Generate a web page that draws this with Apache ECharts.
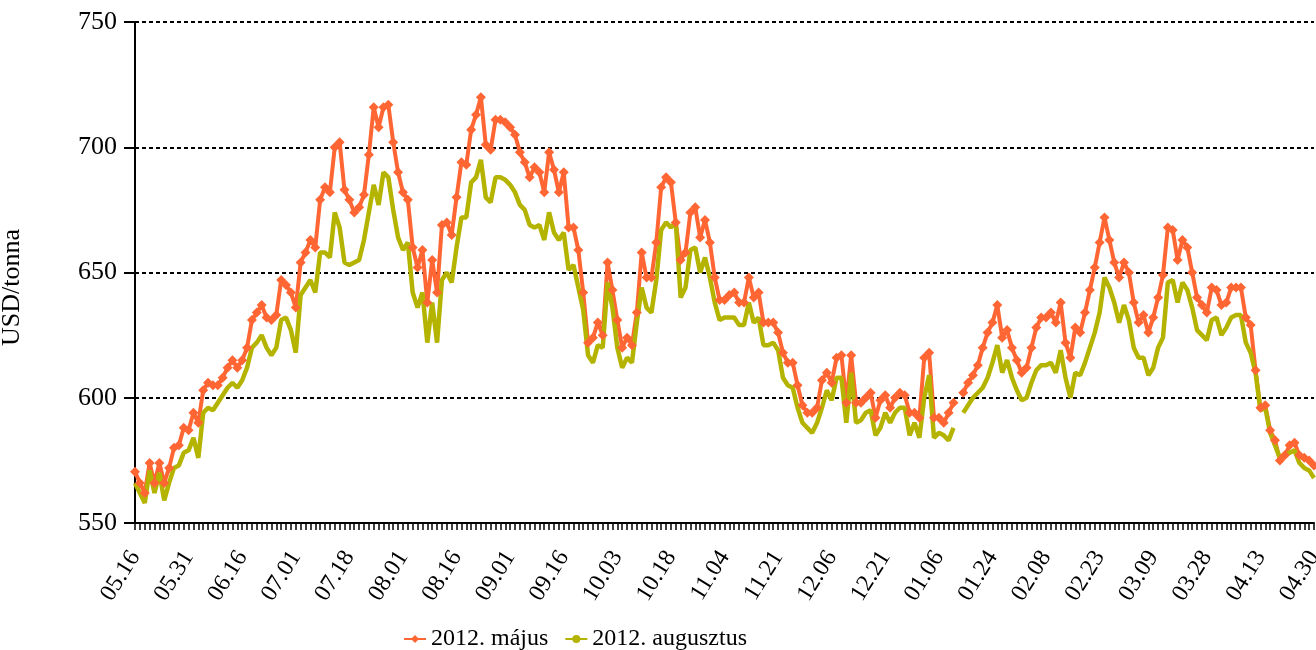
<!DOCTYPE html>
<html>
<head>
<meta charset="utf-8">
<script src="https://cdn.jsdelivr.net/npm/echarts@6/dist/echarts.min.js"></script>
<style>
html,body{margin:0;padding:0;background:#fff;}
#chart{width:1316px;height:650px;}
</style>
</head>
<body>
<div id="chart"></div>
<script>
const tickLabels = ['05.16','05.31','06.16','07.01','07.18','08.01','08.16','09.01','09.16','10.03','10.18','11.04','11.21','12.06','12.21','01.06','01.24','02.08','02.23','03.09','03.28','04.13','04.30'];

const seriesNames = ['2012. május', '2012. augusztus'];

const may = [
570.5,566,562,574,566,574,566,572,580,581,588,587,594,590,603,606,605,605,608,612,
615,612,615,620,631,634,637,632,631,633,647,645,642,636,654,658,663,660,679,684,
682,700,702,683,679,674,676,681,697,716,708,716,717,702,690,682,679,660,652,659,
638,655,642,669,670,665,680,694,693,707,713,720,701,699,711,711,710,708,705,698,
694,688,692,690,682,698,691,682,690,668,668,659,642,622,624,630,625,654,643,631,
620,624,621,634,658,648,648,662,684,688,686,670,655,658,674,676,664,671,662,648,
639,639,641,642,638,638,648,640,642,630,630,630,626,618,614,614,605,597,594,594,
596,607,610,606,616,617,598,617,598,598,600,602,592,599,601,596,600,602,601,594,
594,592,616,618,592,592,590,594,598,null,602,606,609,613,620,626,630,637,624,627,
620,615,610,612,620,628,632,632,634,630,638,622,616,628,626,634,643,652,662,672,
663,654,648,654,650,638,630,633,626,632,640,649,668,667,655,663,660,650,640,637,
634,644,643,637,638,644,644,644,632,629,611,596,597,587,583,575,577,581,582,577,
576,575,573
];

const aug = [
566,562,558,571,562,570,559,566,572,573,578,579,584,576,594,596,595,598,601,604,
606,604,607,612,620,622,625,620,617,620,631,632,627,618,641,644,647,642,658,658,
656,674,668,654,653,654,655,663,674,685,677,690,688,675,664,659,662,642,636,642,
622,638,622,647,650,646,660,672,672,686,688,695,680,678,688,688,687,685,682,677,
675,669,668,669,663,674,666,663,666,651,653,644,635,617,614,621,620,646,636,620,
612,616,614,630,644,636,634,647,667,670,668,670,640,644,659,660,650,656,648,638,
631,632,632,632,629,629,638,630,632,621,621,622,619,608,605,604,596,590,588,586,
590,596,603,599,608,608,590,610,590,591,594,595,585,588,594,590,594,596,596,585,
590,584,600,609,584,586,585,583,588,null,594,597,600,602,604,608,614,621,610,615,
608,603,599,600,606,611,613,613,614,610,619,608,600,610,609,614,620,626,634,648,
644,638,630,637,631,620,616,616,609,612,620,624,646,647,638,646,643,636,627,625,
623,631,632,625,628,632,633,633,622,618,610,595,596,586,581,576,577,578,579,574,
572,571,568
];

const categories = may.map((_, i) => String(i));
const LABEL_STEP = 11;
const FONT = '"Liberation Serif", "Times New Roman", serif';

const chart = echarts.init(document.getElementById('chart'), null, {renderer: 'canvas'});
chart.setOption({
  animation: false,
  backgroundColor: '#ffffff',
  grid: {left: 135, right: 2, top: 22, bottom: 127, containLabel: false, outerBoundsMode: 'none'},
  legend: {
    left: 398, top: 622,
    itemWidth: 22, itemHeight: 10, itemGap: 16,
    textStyle: {fontFamily: FONT, fontSize: 24, color: '#000'},
    data: seriesNames
  },
  xAxis: {
    type: 'category',
    data: categories,
    boundaryGap: false,
    axisLine: {show: true, lineStyle: {color: '#000', width: 2}},
    axisTick: {show: true, interval: 0, length: 7, lineStyle: {color: '#000', width: 1.5}},
    axisLabel: {
      interval: LABEL_STEP - 1,
      rotate: 58,
      margin: 30,
      fontFamily: FONT, fontSize: 24, color: '#000',
      formatter: (v, i) => { const k = i / LABEL_STEP; return Number.isInteger(k) && tickLabels[k] ? tickLabels[k] : ''; }
    },
    splitLine: {show: false}
  },
  yAxis: {
    type: 'value',
    min: 550, max: 750, interval: 50,
    name: 'USD/tonna',
    nameLocation: 'middle',
    nameGap: 110,
    nameRotate: 90,
    nameTextStyle: {fontFamily: FONT, fontSize: 26, color: '#000', padding: [0, 30, 0, 0]},
    axisLine: {show: true, lineStyle: {color: '#000', width: 2}},
    axisTick: {show: true, length: 11, lineStyle: {color: '#000', width: 2}},
    axisLabel: {fontFamily: FONT, fontSize: 26, color: '#000', margin: 18},
    splitLine: {show: true, lineStyle: {color: '#000', width: 2, type: [4, 3]}}
  },
  series: [
    {
      name: seriesNames[0],
      type: 'line',
      data: may,
      symbol: 'diamond',
      symbolSize: 10,
      showAllSymbol: true,
      connectNulls: false,
      itemStyle: {color: '#FF6633'},
      lineStyle: {color: '#FF6633', width: 4}
    },
    {
      name: seriesNames[1],
      type: 'line',
      data: aug,
      symbol: 'none',
      showSymbol: false,
      connectNulls: false,
      itemStyle: {color: '#B4B400'},
      lineStyle: {color: '#B4B400', width: 4.5}
    }
  ]
});
</script>
</body>
</html>
